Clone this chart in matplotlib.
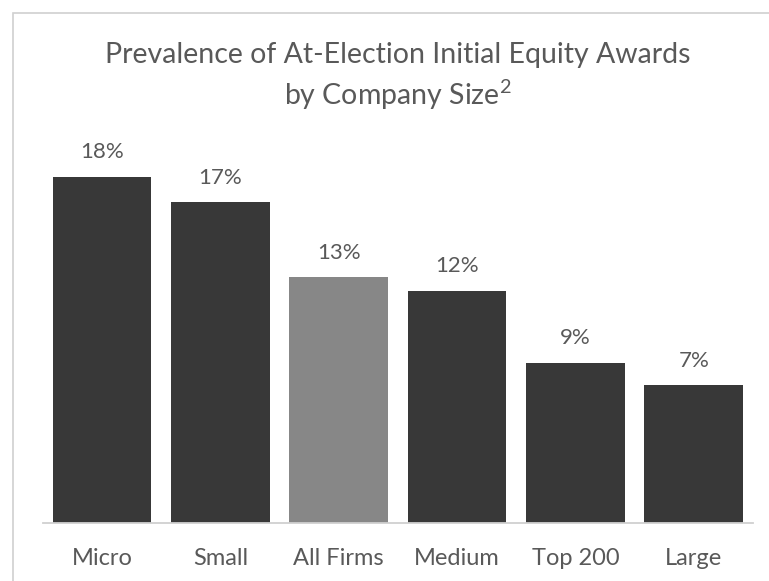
import matplotlib
matplotlib.use("Agg")
import matplotlib.pyplot as plt
from matplotlib.patches import Rectangle

categories = ["Micro", "Small", "All Firms", "Medium", "Top 200", "Large"]
values = [18.45, 17.1, 13.1, 12.4, 8.55, 7.35]
value_labels = ["18%", "17%", "13%", "12%", "9%", "7%"]
bar_colors = ["#383838", "#383838", "#878787", "#383838", "#383838", "#383838"]
title_line1 = "Prevalence of At-Election Initial Equity Awards"
title_line2 = "by Company Size$^{2}$"

plt.rcParams['font.family'] = ['Lato', 'DejaVu Sans']
plt.rcParams['mathtext.fontset'] = 'custom'
plt.rcParams['mathtext.rm'] = 'Lato'
plt.rcParams['mathtext.it'] = 'Lato'
plt.rcParams['mathtext.default'] = 'regular'
W, H = 769, 581
fig = plt.figure(figsize=(W / 100, H / 100), dpi=100)
fig.patch.set_facecolor("white")

# outer frame
fig.patches.append(Rectangle((13.3 / W, -0.1), 1.2, 1.1 - 13.3 / H, transform=fig.transFigure,
                             fill=False, edgecolor="#d0d0d0", linewidth=1.2))

ax = fig.add_axes([42.8 / W, 1 - 523 / H, (753 - 42.8) / W, (523 - 148) / H])
x = list(range(len(categories)))
bars = ax.bar(x, values, width=0.834, color=bar_colors, zorder=2)
ax.set_xlim(-0.5, len(categories) - 0.5)
ax.set_ylim(0, 20)
for s in ["top", "right", "left"]:
    ax.spines[s].set_visible(False)
ax.spines["bottom"].set_color("#d0d0d0")
ax.spines["bottom"].set_linewidth(1.3)
ax.set_yticks([])
ax.set_xticks(x)
ax.set_xticklabels(categories, fontsize=17, color="#595959")
ax.tick_params(axis="x", length=0, pad=18)

for b, lab in zip(bars, value_labels):
    ax.annotate(lab, (b.get_x() + b.get_width() / 2, b.get_height()),
                xytext=(0, 10.5), textcoords="offset points", ha="center", va="bottom",
                fontsize=16, color="#595959")

fig.text(398 / W, 1 - 55 / H, title_line1, ha="center", va="center", fontsize=20.5,
         color="#595959")
fig.text(398 / W, 1 - 95 / H, title_line2, ha="center", va="center", fontsize=20.5,
         color="#595959")

fig.savefig("out.png", dpi=100, facecolor="white")
